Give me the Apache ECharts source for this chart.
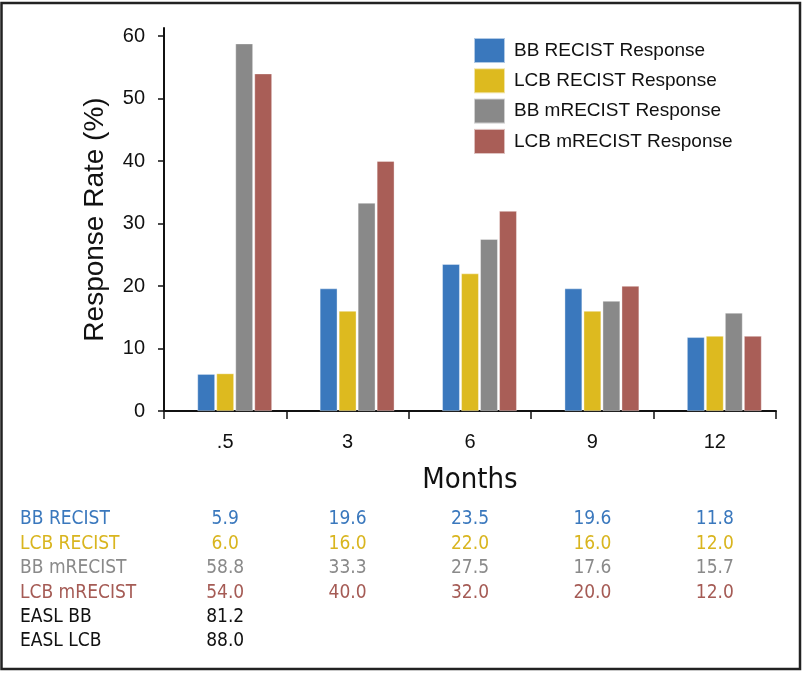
<!DOCTYPE html>
<html><head><meta charset="utf-8">
<script src="https://cdn.jsdelivr.net/npm/echarts@6/dist/echarts.min.js"></script>
<style>html,body{margin:0;padding:0;background:#fff}#c{width:806px;height:673px}</style>
</head><body><div id="c"></div>
<script>
const categories = ['.5', '3', '6', '9', '12'];
const seriesNames = ['BB RECIST Response', 'LCB RECIST Response', 'BB mRECIST Response', 'LCB mRECIST Response'];
const bbRecist = [5.9, 19.6, 23.5, 19.6, 11.8];
const lcbRecist = [6.0, 16.0, 22.0, 16.0, 12.0];
const bbMrecist = [58.8, 33.3, 27.5, 17.6, 15.7];
const lcbMrecist = [54.0, 40.0, 32.0, 20.0, 12.0];
const easlBB = [81.2];
const easlLCB = [88.0];
const yTicks = [0, 10, 20, 30, 40, 50, 60];
const tableLabels = ['BB RECIST', 'LCB RECIST', 'BB mRECIST', 'LCB mRECIST', 'EASL BB', 'EASL LCB'];

const colors = ['#3a78bd', '#ddba1f', '#898989', '#a95e57'];
const textColors = ['#3a78bd', '#d9b51f', '#8a8a8a', '#a55b55', '#111', '#111'];
const FONT = "'Liberation Sans', Arial, sans-serif";
const NARROW = "'DejaVu Sans Condensed', 'Liberation Sans', sans-serif";

const chart = echarts.init(document.getElementById('c'));
const values = [bbRecist, lcbRecist, bbMrecist, lcbMrecist];

const series = [{ type: 'bar', name: 'spacer', data: [], barWidth: 17.5, barGap: '8.6%', silent: true }];
values.forEach((v, i) => series.push({
  type: 'bar', name: seriesNames[i], data: v, barWidth: 17.5, barGap: '8.6%',
  itemStyle: { color: colors[i], borderColor: 'rgba(255,255,255,0.6)', borderWidth: 0.6 }
}));

chart.setOption({
  animation: false,
  textStyle: { fontFamily: FONT },
  grid: { left: 164, right: 30, top: 28, bottom: 262 },
  legend: {
    data: seriesNames, orient: 'vertical', left: 473, top: 37, padding: 0,
    itemWidth: 31, itemHeight: 25, itemGap: 3.3, icon: 'rect',
    textStyle: { fontSize: 19, color: '#111', padding: [0, 0, 0, 4] }
  },
  xAxis: {
    type: 'category', data: categories,
    name: 'Months', nameLocation: 'middle', nameGap: 55,
    nameTextStyle: { fontSize: 29, color: '#111', fontFamily: NARROW },
    axisLine: { lineStyle: { color: '#111', width: 2 } },
    axisTick: { show: true, length: 8, lineStyle: { color: '#111', width: 1.5 } },
    axisLabel: { fontSize: 20, color: '#111', margin: 21 }
  },
  yAxis: {
    type: 'value', min: 0, max: 61.3, interval: 10,
    name: 'Response Rate (%)', nameLocation: 'middle', nameGap: 55, nameRotate: 90,
    nameTextStyle: { fontSize: 28, color: '#111' },
    splitLine: { show: false },
    axisLine: { show: true, lineStyle: { color: '#111', width: 2 } },
    axisTick: { show: true, length: 6, customValues: yTicks, lineStyle: { color: '#111', width: 1.5 } },
    axisLabel: { fontSize: 20, color: '#111', margin: 19, customValues: yTicks,
      formatter: v => (v % 10 === 0 ? String(v) : '') }
  },
  series: series
});

// data table below the chart
const rows = [bbRecist, lcbRecist, bbMrecist, lcbMrecist, easlBB, easlLCB];
const rowY0 = 519.5, rowStep = 24.4;
const g = [{
  type: 'rect', shape: { x: 1.5, y: 3, width: 798.5, height: 666 },
  style: { fill: 'none', stroke: '#222', lineWidth: 2.5 }, z: 100
}];
rows.forEach((r, i) => {
  const y = rowY0 + i * rowStep;
  g.push({ type: 'text', x: 20, y: y, style: { text: tableLabels[i], fill: textColors[i], font: "19px " + NARROW, textAlign: 'left', textVerticalAlign: 'middle' } });
  r.forEach((v, j) => {
    const px = chart.convertToPixel({ xAxisIndex: 0 }, categories[j]);
    g.push({ type: 'text', x: px, y: y, style: { text: v.toFixed(1), fill: textColors[i], font: "19px " + NARROW, textAlign: 'center', textVerticalAlign: 'middle' } });
  });
});
chart.setOption({ graphic: g });
</script></body></html>
